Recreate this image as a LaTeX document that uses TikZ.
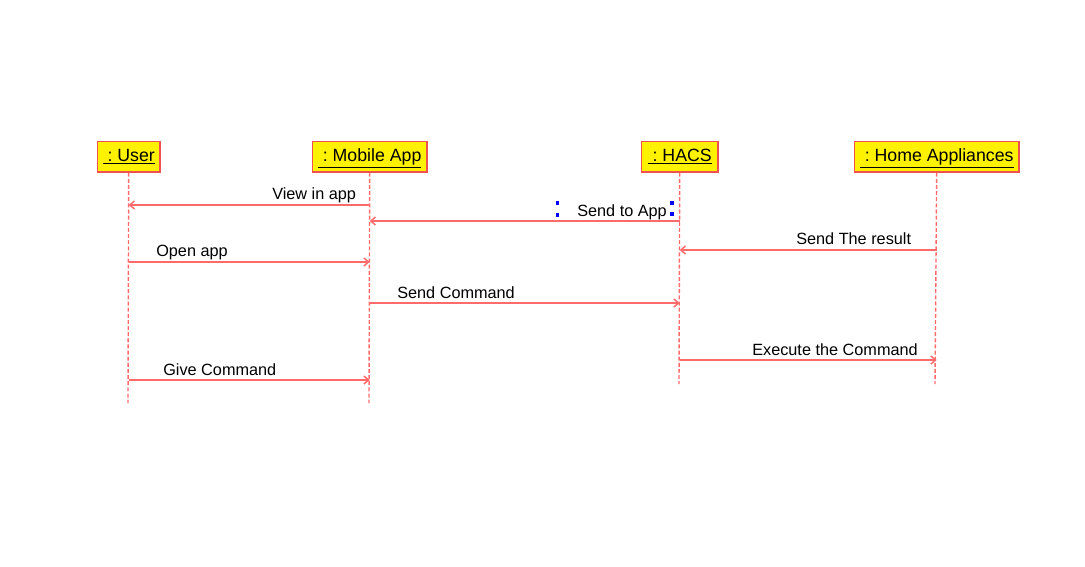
\documentclass[tikz,border=0pt]{standalone}
\usepackage{fontspec}
\setmainfont{Liberation Sans}
\usetikzlibrary{arrows.meta}
\definecolor{lred}{HTML}{FF6B6B}
\definecolor{bred}{HTML}{F05050}
\definecolor{handle}{HTML}{0000FF}
\begin{document}
\begin{tikzpicture}[x=0.75pt,y=-0.75pt,
  obj/.style={draw=bred,line width=1.5pt*0.75,fill=yellow,minimum height=30.5*0.75pt,inner sep=0pt,text height=9.5pt,text depth=2.5pt,font=\fontsize{13.3}{15}\selectfont,anchor=north west},
  life/.style={draw=lred,dash pattern=on 3pt off 1.6pt,line width=1.05pt},
  msg/.style={draw=lred,line width=1.1pt,-{Straight Barb[length=3.5pt,width=6pt]}},
  lbl/.style={font=\fontsize{12.2}{14}\selectfont,inner sep=0pt,anchor=base west},
  hd/.style={fill=handle,draw=none}]
\useasboundingbox (0,0) rectangle (1085,567);
\node[obj,minimum width=62.5*0.75pt] (user) at (96.7,140.7) {\underline{\ :\ User}};
\node[obj,minimum width=114.5*0.75pt] (app) at (311.7,140.7) {\underline{\ :\ Mobile App}};
\node[obj,minimum width=76.5*0.75pt] (hacs) at (640.7,140.7) {\underline{\ :\ HACS}};
\node[obj,minimum width=164.5*0.75pt] (home) at (853.7,140.7) {\underline{\ :\ Home Appliances}};
\coordinate (uend) at (128,403);
\coordinate (aend) at (369,403);
\coordinate (hend) at (679,384);
\coordinate (eend) at (935,384);
\draw[life] (user.south) -- (uend);
\draw[life] (app.south) -- (aend);
\draw[life] (hacs.south) -- (hend);
\draw[life] (home.south) -- (eend);
% messages
\draw[msg] (app |- 0,205) -- (user |- 0,205);
\node[lbl] (l1) at (272,199) {View in app};
\draw[msg] (hacs |- 0,221) -- (app |- 0,221);
\node[lbl] (l2) at (577,216) {Send to App};
\draw[msg] (home |- 0,250) -- (hacs |- 0,250);
\node[lbl] (l3) at (796,244) {Send The result};
\draw[msg] (user |- 0,262) -- (app |- 0,262);
\node[lbl] (l4) at (156,256) {Open app};
\draw[msg] (app |- 0,303) -- (hacs |- 0,303);
\node[lbl] (l5) at (397,298) {Send Command};
\draw[msg] (hacs |- 0,360) -- (home |- 0,360);
\node[lbl] (l6) at (752,355) {Execute the Command};
\draw[msg] (user |- 0,380) -- (app |- 0,380);
\node[lbl] (l7) at (163,375) {Give Command};
% selection handles
\fill[hd] (556,201) rectangle (559,205);
\fill[hd] (556,213) rectangle (559,217);
\fill[hd] (670,201) rectangle (674,205);
\fill[hd] (670,212) rectangle (674,216);
\end{tikzpicture}
\end{document}
